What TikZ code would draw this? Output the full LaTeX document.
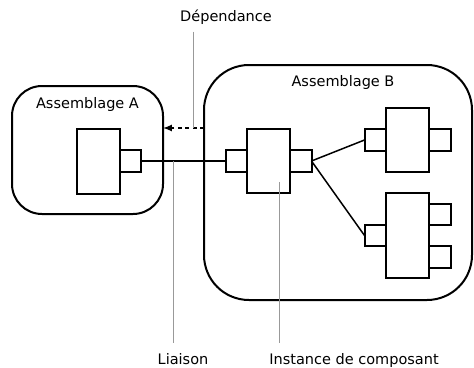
\documentclass[tikz,border=0pt]{standalone}
\usepackage{fontspec}
\setmainfont{DejaVu Sans}
\usetikzlibrary{positioning}
\tikzset{>=latex}
\tikzset{
	assembly/.style={draw, line width=2pt, inner sep=0pt, outer sep=0pt},
	comp/.style={draw, line width=2pt, fill=white, inner sep=0pt, outer sep=0pt, minimum width=43pt},
	port/.style={draw, line width=2pt, fill=white, inner sep=0pt, outer sep=0pt, minimum size=21.5pt},
	wire/.style={line width=1.5pt},
	depend/.style={line width=2pt, dash pattern=on 4pt off 3.5pt},
	pointer/.style={draw=black!40, line width=1pt},
}

\begin{document}
\begin{tikzpicture}[x=1pt, y=-1pt, font=\fontsize{14.5}{17}\selectfont]
		\useasboundingbox (0,0) rectangle (474,367);

		% the two assemblies
		\node[assembly, rounded corners=30pt, minimum width=151pt, minimum height=128pt] (asmA) at (87.5,150) {};
		\node[assembly, rounded corners=45pt, minimum width=268pt, minimum height=235pt] (asmB) at (338,182.5) {};
		\node[anchor=base] (asmAname) at ([yshift=-22pt]asmA.north) {Assemblage A};
		\node[anchor=base] (asmBname) at ([xshift=5pt, yshift=-21pt]asmB.north) {Assemblage B};

		% components and their ports
		\node[comp, minimum height=65pt] (compA) at (98,161) {};
		\node[port, anchor=west] (compAout) at (compA.east) {};

		\node[comp, minimum height=64pt] (compB) at (268.5,161) {};
		\node[port, anchor=east] (compBin) at (compB.west) {};
		\node[port, anchor=west] (compBout) at (compB.east) {};

		\node[comp, minimum height=64pt] (compC) at (407.5,140) {};
		\node[port, anchor=east] (compCin) at (compC.west) {};
		\node[port, anchor=west] (compCout) at (compC.east) {};

		\node[comp, minimum height=85pt] (compD) at (407.5,235.5) {};
		\node[port, anchor=east] (compDin) at (compD.west) {};
		\node[port, anchor=west] (compDout) at ([yshift=21pt]compD.east) {};
		\node[port, anchor=west] (compDoutb) at ([yshift=-21.5pt]compD.east) {};

		% bindings
		\draw[wire] (compAout.east) -- (compBin.west);
		\draw[wire] (compBout.east) -- (compCin.west);
		\draw[wire] (compBout.east) -- (compDin.west);

		% dependency
		\coordinate (dep) at (193,128);
		\draw[depend, ->] (asmB.west |- dep) -- (asmA.east |- dep);

		% captions
		\coordinate (liaison) at (173,161);
		\coordinate (inst) at (279,182);
		\node[anchor=base] (depName) at (226,21) {Dépendance};
		\node[anchor=base] (liaisonName) at (183,364) {Liaison};
		\node[anchor=base] (instName) at (354,364) {Instance de composant};
		\draw[pointer] ([yshift=-4pt]depName.south -| dep) -- (dep);
		\draw[pointer] (liaison) -- ([yshift=6.5pt]liaisonName.north -| liaison);
		\draw[pointer] (inst) -- ([yshift=6.5pt]instName.north -| inst);

	\end{tikzpicture}
\end{document}
